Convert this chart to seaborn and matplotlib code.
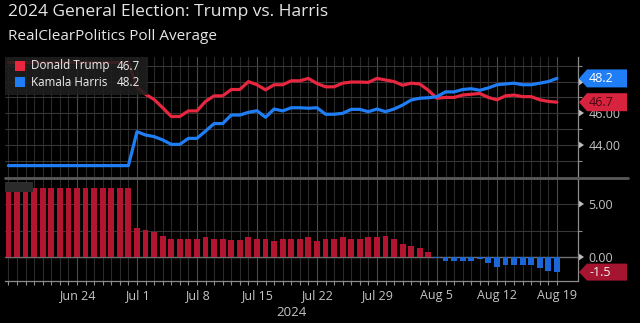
import numpy as np
import pandas as pd
import matplotlib
matplotlib.use("Agg")
import matplotlib.pyplot as plt
from matplotlib.patches import Rectangle, Polygon
from matplotlib.lines import Line2D
from matplotlib.transforms import Affine2D
import matplotlib.markers as mmarkers
import seaborn as sns

# ---------------- data ----------------
start_date = "2024-06-16"
end_date = "2024-08-19"

trump_jun = [49.2] * 15
trump_jul = [47.65, 47.2, 46.87, 46.35, 45.8, 45.8, 46.15, 46.15, 46.75, 47.1,
             47.1, 47.5, 47.5, 48.0, 47.8, 47.48, 47.8, 47.8, 48.05, 48.05,
             48.2, 47.88, 47.67, 47.67, 47.9, 47.97, 47.97, 47.95, 48.2, 48.1,
             48.0]
trump_aug = [47.77, 47.9, 47.85, 47.45, 46.95, 47.0, 47.0, 47.15, 47.2, 47.25,
             47.0, 46.85, 47.1, 47.15, 47.05, 47.05, 46.85, 46.75, 46.7]

harris_jun = [42.7] * 15
harris_jul = [44.84, 44.63, 44.53, 44.32, 44.04, 44.04, 44.42, 44.42, 44.88, 45.35,
              45.35, 45.89, 45.89, 46.06, 46.16, 45.75, 46.27, 46.15, 46.35, 46.35,
              46.32, 46.35, 45.94, 45.94, 46.0, 46.25, 46.25, 46.1, 46.27, 46.1,
              46.27]
harris_aug = [46.52, 46.84, 46.95, 46.98, 47.05, 47.35, 47.35, 47.5, 47.55, 47.45,
              47.6, 47.8, 47.85, 47.9, 47.8, 47.8, 47.9, 48.0, 48.2]

spread_jun = [6.5] * 15
spread_jul = [2.8, 2.58, 2.34, 2.03, 1.77, 1.77, 1.75, 1.75, 1.87, 1.76,
              1.76, 1.6, 1.6, 1.94, 1.75, 1.74, 1.58, 1.74, 1.73, 1.73,
              1.94, 1.57, 1.73, 1.73, 1.91, 1.73, 1.73, 1.87, 1.94, 2.0,
              1.73]
spread_aug = [1.25, 1.07, 0.91, 0.47, -0.1, -0.32, -0.32, -0.32, -0.32, -0.19,
              -0.57, -0.94, -0.73, -0.73, -0.73, -0.73, -1.04, -1.26, -1.4]

week_ticks = ["2024-06-24", "2024-07-01", "2024-07-08", "2024-07-15", "2024-07-22",
              "2024-07-29", "2024-08-05", "2024-08-12", "2024-08-19"]
week_labels = ["Jun 24", "Jul 1", "Jul 8", "Jul 15", "Jul 22",
               "Jul 29", "Aug 5", "Aug 12", "Aug 19"]

top_ticks = [44, 46, 48]
top_tick_labels = ["44.00", "46.00", ""]   # 48.00 sits under the 48.2 tag
bottom_ticks = [0, 5]
bottom_tick_labels = ["0.00", "5.00"]

title = "2024 General Election: Trump vs. Harris"
subtitle = "RealClearPolitics Poll Average"
names = ["Donald Trump", "Kamala Harris"]
last_values = ["46.7", "48.2"]
last_spread = "-1.5"
year_label = "2024"

# ---------------- styling ----------------
BG = "#000000"
RED_LINE = "#e8263f"
BLUE_LINE = "#1f7ef5"
RED_BAR = "#b3142f"
BLUE_BAR = "#1c66d6"
GRID = "#2a2a2a"
GRID_WEEK = "#4a4a4a"
TXT = "#e6e6e6"
TICK_TXT = "#c4c4c4"
SPINE = "#8c8c8c"

sns.set_style("dark", {"axes.facecolor": BG, "figure.facecolor": BG})
plt.rcParams['font.family'] = ['Open Sans', 'DejaVu Sans']

dates = pd.date_range(start_date, end_date, freq="D")
df = pd.DataFrame({
    "date": dates,
    "trump": trump_jun + trump_jul + trump_aug,
    "harris": harris_jun + harris_jul + harris_aug,
    "spread": spread_jun + spread_jul + spread_aug,
})
df["day"] = (df["date"] - dates[0]).dt.days
df["side"] = np.where(df["spread"] >= 0, "R", "D")
week_pos = [(pd.Timestamp(w) - dates[0]).days for w in week_ticks]

W, H = 640, 323
fig = plt.figure(figsize=(W / 100, H / 100), dpi=100, facecolor=BG)
PIX = Affine2D().scale(1 / W, -1 / H).translate(0, 1) + fig.transFigure


def px_axes(l, t, r, b):
    return fig.add_axes([l / W, 1 - b / H, (r - l) / W, (b - t) / H])


ax1 = px_axes(5, 57, 578, 178)
ax2 = px_axes(5, 178, 578, 281)

# ---------------- top panel ----------------
sns.lineplot(data=df, x="day", y="trump", color=RED_LINE, lw=2.3, ax=ax1, zorder=3)
sns.lineplot(data=df, x="day", y="harris", color=BLUE_LINE, lw=2.3, ax=ax1, zorder=4)

# ---------------- bottom panel ----------------
sns.barplot(data=df, x="day", y="spread", hue="side", native_scale=True,
            palette={"R": RED_BAR, "D": BLUE_BAR}, dodge=False, width=0.68,
            legend=False, saturation=1, edgecolor="none", linewidth=0,
            ax=ax2, zorder=3)

XL = (-0.4, 66.46)
for ax in (ax1, ax2):
    ax.set_facecolor(BG)
    ax.set_xlim(*XL)
    ax.set_xlabel("")
    ax.set_ylabel("")
    ax.set_axisbelow(True)
    ax.set_xticks(week_pos)
    ax.set_xticks(df["day"], minor=True)
    ax.grid(False)
    for s in ("left", "top", "bottom"):
        ax.spines[s].set_visible(False)
    ax.spines["right"].set_visible(True)
    ax.spines["right"].set_color(SPINE)
    ax.spines["right"].set_linewidth(0.9)
    ax.yaxis.tick_right()
    ax.xaxis.grid(True, which="major", color=GRID_WEEK, lw=0.8)
    ax.xaxis.grid(True, which="minor", color=GRID, lw=0.8)
    ax.yaxis.grid(True, which="both", color="#363636", lw=0.8)

ax1.set_ylim(41.92, 49.55)
ax1.set_yticks(top_ticks)
ax1.set_yticklabels(top_tick_labels)
ax1.set_yticks([43, 45, 47, 49], minor=True)
ax1.tick_params(axis="x", which="both", bottom=False, labelbottom=False)

ax2.set_ylim(-2.24, 7.48)
ax2.set_yticks(bottom_ticks)
ax2.set_yticklabels(bottom_tick_labels)
ax2.set_yticks([2.5], minor=True)
ax2.axhline(0, color="#6e6e6e", lw=1.0, zorder=2)
ax2.spines["bottom"].set_visible(True)
ax2.spines["bottom"].set_color(SPINE)
ax2.spines["bottom"].set_linewidth(0.9)
ax2.set_xticklabels(week_labels)
ax2.tick_params(axis="x", which="both", bottom=True, direction="out", length=3,
                width=0.8, color=SPINE, labelsize=9, labelcolor=TICK_TXT, pad=3)

for ax in (ax1, ax2):
    ax.tick_params(axis="y", which="major", right=True, left=False, length=6, width=0,
                   labelsize=9, labelcolor=TICK_TXT, pad=1.5)
    ax.tick_params(axis="y", which="minor", right=True, left=False, length=3,
                   width=0.8, color=SPINE)
    for t in ax.yaxis.get_major_ticks():
        t.tick2line.set_marker(mmarkers.CARETRIGHTBASE)
        t.tick2line.set_markersize(6)
        t.tick2line.set_markerfacecolor("#bdbdbd")
        t.tick2line.set_markeredgecolor("#bdbdbd")
        t.tick2line.set_markeredgewidth(0)

# separator between panels
fig.add_artist(Line2D([5, 628], [178, 178], transform=PIX, color="#595959", lw=2.0, zorder=5))

# ---------------- titles ----------------
fig.text(8, 12, title, transform=PIX, fontsize=12.5, color=TXT, va="center", ha="left")
fig.text(8, 37, subtitle, transform=PIX, fontsize=11, color=TXT, va="center", ha="left")
fig.text(291.5, 312, year_label, transform=PIX, fontsize=9.5, color=TICK_TXT,
         va="center", ha="center")

# ---------------- legend box ----------------
fig.add_artist(Rectangle((5, 57), 143, 38, transform=PIX, facecolor="#1f1f1f",
                         alpha=0.88, edgecolor="none", zorder=6))
for i, (nm, val, col) in enumerate(zip(names, last_values, [RED_LINE, BLUE_LINE])):
    yc = 66 + 16 * i
    fig.add_artist(Rectangle((15, yc - 5), 10, 10, transform=PIX, facecolor=col,
                             edgecolor="none", zorder=7))
    fig.text(31, yc, nm, transform=PIX, fontsize=8.4, color="#f0f0f0", va="center",
             ha="left", zorder=8)
    fig.text(140, yc, val, transform=PIX, fontsize=8.4, color="#f0f0f0", va="center",
             ha="right", zorder=8)

fig.add_artist(Rectangle((5, 182), 28, 10, transform=PIX, facecolor="#2b2b2b",
                         edgecolor="none", zorder=6))


# ---------------- value tags on the right ----------------
def tag(ax, value, text, face, tcol, h=18):
    yd = ax.transData.transform((0, value))[1]
    yc = H - yd
    pts = [(579, yc), (587, yc - h / 2), (627, yc - h / 2), (627, yc + h / 2), (587, yc + h / 2)]
    fig.add_artist(Polygon(pts, closed=True, transform=PIX, facecolor=face,
                           edgecolor="none", zorder=9))
    fig.text(589, yc, text, transform=PIX, fontsize=9, color=tcol, va="center",
             ha="left", zorder=10)


tag(ax1, df["harris"].iloc[-1], last_values[1], "#1f7ef5", "#ffffff")
tag(ax1, df["trump"].iloc[-1], last_values[0], "#d8233f", "#4a0710")
tag(ax2, df["spread"].iloc[-1], last_spread, "#a5152f", "#f2f2f2", h=17)

fig.savefig("out.png", dpi=100, facecolor=BG)
